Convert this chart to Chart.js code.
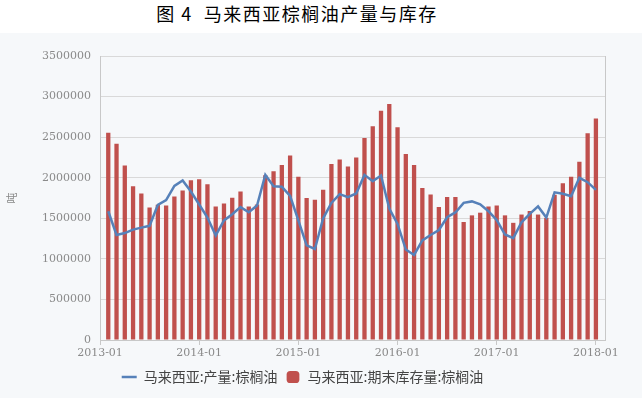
<!DOCTYPE html>
<html>
<head>
<meta charset="utf-8">
<script src="https://cdn.jsdelivr.net/npm/chart.js@4.4.1/dist/chart.umd.min.js"></script>
<style>
  body { margin: 0; width: 642px; height: 398px; background: #fff; overflow: hidden; }
  #title { height: 33px; line-height: 33px; padding-right: 48px; text-align: center;
           font: 18px "Noto Sans CJK SC"; letter-spacing: 1.5px; color: #000; white-space: pre; }
  #wrap { position: relative; width: 642px; height: 365px; background: #f6f8fa; }
</style>
</head>
<body>
<div id="title">图 4  马来西亚棕榈油产量与库存</div>
<div id="wrap"><canvas id="chart"></canvas></div>
<script>
// 月份(数据记在月末，画在下一个月初的位置)
const months = [
  '2013-02','2013-03','2013-04','2013-05','2013-06','2013-07','2013-08','2013-09','2013-10','2013-11','2013-12','2014-01',
  '2014-02','2014-03','2014-04','2014-05','2014-06','2014-07','2014-08','2014-09','2014-10','2014-11','2014-12','2015-01',
  '2015-02','2015-03','2015-04','2015-05','2015-06','2015-07','2015-08','2015-09','2015-10','2015-11','2015-12','2016-01',
  '2016-02','2016-03','2016-04','2016-05','2016-06','2016-07','2016-08','2016-09','2016-10','2016-11','2016-12','2017-01',
  '2017-02','2017-03','2017-04','2017-05','2017-06','2017-07','2017-08','2017-09','2017-10','2017-11','2017-12','2018-01'
];
const tickLabels = ['2013-01', '2014-01', '2015-01', '2016-01', '2017-01', '2018-01'];
const seriesNames = ['马来西亚:产量:棕榈油', '马来西亚:期末库存量:棕榈油'];

// 产量 (吨)
const output = [
  1587000, 1294000, 1318000, 1360000, 1385000, 1407000, 1666000, 1725000, 1900000, 1966000, 1830000, 1670000,
  1510000, 1288000, 1474000, 1550000, 1638000, 1574000, 1658000, 2035000, 1894000, 1888000, 1775000, 1474000,
  1167000, 1122000, 1500000, 1690000, 1798000, 1761000, 1806000, 2035000, 1957000, 2027000, 1620000, 1430000,
  1115000, 1048000, 1227000, 1294000, 1356000, 1513000, 1572000, 1690000, 1708000, 1671000, 1587000, 1478000,
  1300000, 1255000, 1450000, 1554000, 1646000, 1509000, 1820000, 1802000, 1771000, 1999000, 1945000, 1851000
];
// 期末库存量 (吨)
const stock = [
  2555000, 2420000, 2150000, 1896000, 1806000, 1634000, 1668000, 1658000, 1770000, 1843000, 1968000, 1980000,
  1920000, 1646000, 1683000, 1753000, 1830000, 1646000, 1671000, 2030000, 2080000, 2158000, 2273000, 2011000,
  1750000, 1728000, 1851000, 2170000, 2226000, 2138000, 2248000, 2490000, 2633000, 2826000, 2908000, 2621000,
  2293000, 2158000, 1874000, 1792000, 1638000, 1761000, 1761000, 1454000, 1536000, 1569000, 1646000, 1658000,
  1536000, 1444000, 1546000, 1589000, 1546000, 1505000, 1790000, 1933000, 2013000, 2197000, 2547000, 2729000
];

const lineColor = '#5681b9';
const barColor = '#c0504d';
const tickFont = { family: "'DejaVu Serif', serif", size: 11 };

// 月份 -> 距 2013-01 的月数
const monthPos = months.map(m => (Number(m.slice(0, 4)) - 2013) * 12 + Number(m.slice(5)) - 1);

const legendBox = {
  id: 'legendBox',
  beforeInit(chart) {
    const lg = chart.legend;
    const fit = lg.fit;
    lg.fit = function () { fit.call(this); this.height = 36; };
  }
};

const rightBorder = {
  id: 'rightBorder',
  beforeDatasetsDraw(chart) {
    const { ctx, chartArea: a } = chart;
    ctx.save();
    ctx.strokeStyle = '#c8c8c8';
    ctx.lineWidth = 1;
    ctx.beginPath();
    ctx.moveTo(Math.round(a.right) + 0.5, a.top);
    ctx.lineTo(Math.round(a.right) + 0.5, a.bottom);
    ctx.stroke();
    ctx.restore();
  }
};

new Chart(document.getElementById('chart'), {
  type: 'bar',
  data: {
    datasets: [
      {
        type: 'line',
        label: seriesNames[0],
        data: monthPos.map((x, i) => ({ x: x, y: output[i] })),
        borderColor: lineColor,
        backgroundColor: lineColor,
        borderWidth: 2.5,
        pointRadius: 0,
        tension: 0,
        fill: false
      },
      {
        type: 'bar',
        label: seriesNames[1],
        data: monthPos.map((x, i) => ({ x: x, y: stock[i] })),
        backgroundColor: barColor,
        barPercentage: 0.52,
        categoryPercentage: 1
      }
    ]
  },
  options: {
    responsive: true,
    maintainAspectRatio: false,
    animation: false,
    layout: { padding: { top: 23, right: 37, left: 0, bottom: 0 } },
    scales: {
      x: {
        type: 'linear',
        min: 0,
        max: 61.1,
        offset: false,
        ticks: {
          stepSize: 12,
          includeBounds: false,
          autoSkip: false,
          maxRotation: 0,
          color: '#8a8a8a',
          font: tickFont,
          padding: 2,
          callback: v => tickLabels[v / 12]
        },
        grid: { display: true, offset: false, drawOnChartArea: false, tickLength: 5, color: '#c8c8c8' },
        border: { color: '#c8c8c8' },
        afterFit: s => { s.height = 22; }
      },
      y: {
        min: 0,
        max: 3500000,
        ticks: {
          stepSize: 500000,
          color: '#8a8a8a',
          font: tickFont,
          padding: 9,
          callback: v => String(v)
        },
        grid: { color: '#d9d9d9', drawTicks: false },
        border: { color: '#c8c8c8' },
        title: {
          display: true,
          text: '吨',
          color: '#888',
          font: { family: "'Noto Sans CJK SC'", size: 11 },
          padding: { top: 5 }
        },
        afterFit: s => { s.width = 100; }
      }
    },
    plugins: {
      legend: {
        position: 'bottom',
        align: 'center',
        labels: {
          usePointStyle: true,
          pointStyleWidth: 15,
          boxHeight: 10,
          padding: 8,
          color: '#444',
          font: { family: "'Noto Sans CJK SC'", size: 14 },
          generateLabels: chart =>
            Chart.defaults.plugins.legend.labels.generateLabels(chart).map((it, i) =>
              Object.assign(it, i === 0
                ? { pointStyle: 'line', strokeStyle: lineColor, lineWidth: 2.5 }
                : { pointStyle: 'rectRounded', fillStyle: barColor, lineWidth: 0 }))
        }
      },
      tooltip: { enabled: false }
    }
  },
  plugins: [legendBox, rightBorder]
});
</script>
</body>
</html>
